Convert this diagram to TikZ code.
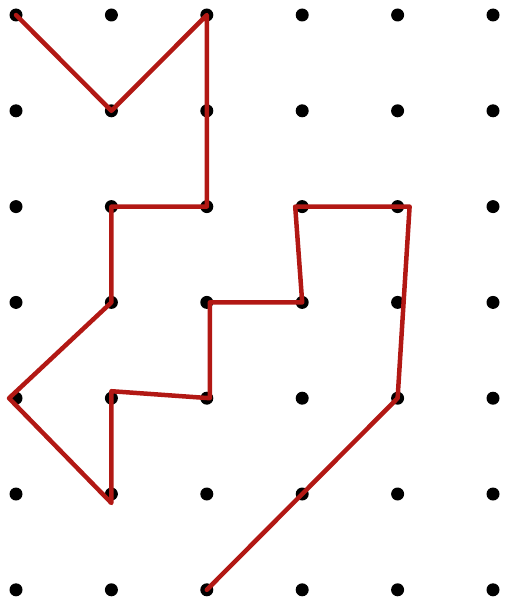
\documentclass[tikz,border=0pt]{standalone}
\usetikzlibrary{positioning,calc}

\definecolor{routered}{RGB}{178,24,20}

\begin{document}
\begin{tikzpicture}[
    x=1pt, y=-1pt,
    dot/.style={circle, fill=black, inner sep=0pt, minimum size=13pt},
    route/.style={routered, line width=4.5pt, line join=round, line cap=round}
]
    \useasboundingbox (0,0) rectangle (504,602);

    % dot grid, 6 columns x 7 rows
    \foreach \c in {0,...,5}
        \foreach \r in {0,...,6}
            \node[dot] (d\c\r) at ({16+95.4*\c},{15+95.8*\r}) {};

    \draw[route] (d00.center) -- (d11.center) -- (d20.center) -- (d22.center)
        -- (d12.center) -- (d13.center) -- ([xshift=-7pt]d04.center) -- ([yshift=-9pt]d15.center)
        -- ([yshift=7pt]d14.center) -- ([xshift=3pt]d24.center) -- ([xshift=3pt]d23.center)
        -- (d33.center) -- ([xshift=-7pt]d32.center) -- ([xshift=12pt]d42.center)
        -- (d44.center) -- (d26.center);
\end{tikzpicture}
\end{document}
